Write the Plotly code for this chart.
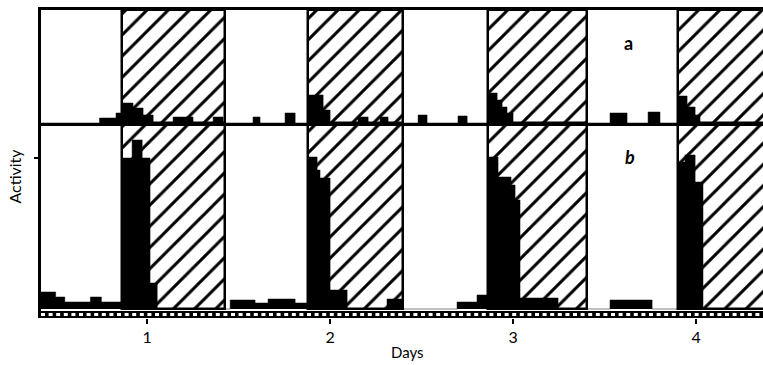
import plotly.graph_objects as go

# ---- data (time in days, activity in arbitrary units) ----
day_ticks = [1, 2, 3, 4]
dark_start = [0.863, 1.880, 2.863, 3.902]
dark_end = [1.426, 2.399, 3.404, 4.45]

# panel a: step boundaries (days) and activity level from each boundary on
a_t = [0.42, 0.74, 0.83, 0.863, 0.923, 0.978, 1.033, 1.142, 1.251, 1.361,
       1.415, 1.579, 1.617, 1.754, 1.809, 1.880, 1.962, 2.0, 2.153, 2.208,
       2.273, 2.317, 2.481, 2.530, 2.699, 2.749, 2.863, 2.913, 2.940, 2.967,
       3.000, 3.530, 3.623, 3.738, 3.803, 3.902, 3.951, 3.995, 4.022, 4.366]
a_h = [0, 5, 10, 20, 15, 8, 0, 6, 0, 6,
       0, 6, 0, 10, 0, 28, 13, 0, 6, 0,
       6, 0, 8, 0, 7, 0, 30, 23, 16, 10,
       0, 10, 0, 11, 0, 27, 16, 8, 0, 0]

# panel b
b_t = [0.42, 0.50, 0.55, 0.69, 0.75, 0.863, 0.918, 0.973, 1.016, 1.055,
       1.454, 1.590, 1.661, 1.809, 1.880, 1.929, 1.945, 2.000, 2.093, 2.311,
       2.393, 2.694, 2.803, 2.863, 2.918, 2.989, 3.011, 3.038, 3.246, 3.530,
       3.760, 3.902, 3.940, 3.995, 4.038, 4.366]
b_h = [17, 12, 7, 12, 7, 151, 169, 151, 26, 0,
       9, 6, 10, 6, 152, 139, 131, 19, 0, 10,
       0, 7, 14, 152, 132, 124, 109, 11, 0, 9,
       0, 147, 154, 127, 0, 0]

activity_tick = [151]
x_min, x_max = 0.42, 4.366
a_top = 113
b_top = 186
b_bottom = -9
strip_y = -5.5

FONT = "Lato"

fig = go.Figure()

hatch_x = [(s + e) / 2 for s, e in zip(dark_start, dark_end)]
hatch_w = [e - s for s, e in zip(dark_start, dark_end)]
for xa, ya, top in (("x", "y", b_top), ("x2", "y2", a_top)):
    fig.add_trace(go.Bar(
        x=hatch_x, y=[top] * len(hatch_x), width=hatch_w, base=0,
        xaxis=xa, yaxis=ya,
        marker=dict(color="white",
                    pattern=dict(shape="/", size=15, solidity=0.2,
                                 fgcolor="black", bgcolor="white",
                                 fgopacity=1, fillmode="replace"),
                    line=dict(color="black", width=2.5)),
        showlegend=False, hoverinfo="skip"))

fig.add_trace(go.Scatter(x=b_t, y=b_h, mode="lines", xaxis="x", yaxis="y",
                         line=dict(shape="hv", width=0.5, color="black"),
                         fill="tozeroy", fillcolor="black",
                         showlegend=False, hoverinfo="skip"))
fig.add_trace(go.Scatter(x=a_t, y=a_h, mode="lines", xaxis="x2", yaxis="y2",
                         line=dict(shape="hv", width=0.5, color="black"),
                         fill="tozeroy", fillcolor="black",
                         showlegend=False, hoverinfo="skip"))

# time-marker strip along the bottom
fig.add_trace(go.Scatter(x=[x_min, x_max], y=[strip_y, strip_y], mode="lines",
                         xaxis="x", yaxis="y", line=dict(color="black", width=7),
                         showlegend=False, hoverinfo="skip"))
fig.add_trace(go.Scatter(x=[x_min, x_max], y=[strip_y, strip_y], mode="lines",
                         xaxis="x", yaxis="y",
                         line=dict(color="white", width=3, dash="4px,3.6px"),
                         showlegend=False, hoverinfo="skip"))

split = 195 / 308

fig.update_layout(
    width=763, height=365,
    margin=dict(l=41, r=0, t=10, b=47),
    paper_bgcolor="white", plot_bgcolor="white",
    bargap=0, barmode="overlay",
    font=dict(family=FONT, color="black"),
    xaxis=dict(domain=[0, 1], range=[x_min, x_max], anchor="y",
               tickvals=day_ticks, ticktext=[str(d) for d in day_ticks],
               ticks="outside", ticklen=5, tickwidth=2, tickcolor="black",
               tickfont=dict(size=16, family=FONT, color="black"),
               showline=False, showgrid=False, zeroline=False),
    xaxis2=dict(domain=[0, 1], range=[x_min, x_max], anchor="y2", matches="x",
                showticklabels=False, ticks="", showline=True, linewidth=3,
                linecolor="black", mirror=True, showgrid=False, zeroline=False),
    yaxis=dict(domain=[0, split], range=[b_bottom, b_top], anchor="x",
               tickvals=activity_tick, ticks="outside", ticklen=4, tickwidth=2,
               tickcolor="black", showticklabels=False,
               showline=True, linewidth=3, linecolor="black",
               showgrid=False, zeroline=False),
    yaxis2=dict(domain=[split, 1], range=[0, a_top], anchor="x2",
                showticklabels=False, ticks="",
                showline=True, linewidth=3, linecolor="black",
                showgrid=False, zeroline=False),
    annotations=[
        dict(text="<b>a</b>", x=3.63, y=80, xref="x2", yref="y2",
             showarrow=False, font=dict(size=18, family=FONT, color="black")),
        dict(text="<b><i>b</i></b>", x=3.64, y=152, xref="x", yref="y",
             showarrow=False, font=dict(size=18, family=FONT, color="black")),
        dict(text="Days", x=0.507, y=-0.11, xref="paper", yref="paper",
             showarrow=False, yanchor="middle",
             font=dict(size=15, family=FONT, color="black")),
        dict(text="Activity", x=-0.037, y=0.46, xref="paper", yref="paper",
             showarrow=False, textangle=-90, xanchor="center", yanchor="middle",
             font=dict(size=16, family=FONT, color="black")),
    ],
)

fig.write_html("out.html", config={"displayModeBar": False},
               post_script="document.body.style.margin='0';"
                           "document.body.style.overflow='hidden';")
